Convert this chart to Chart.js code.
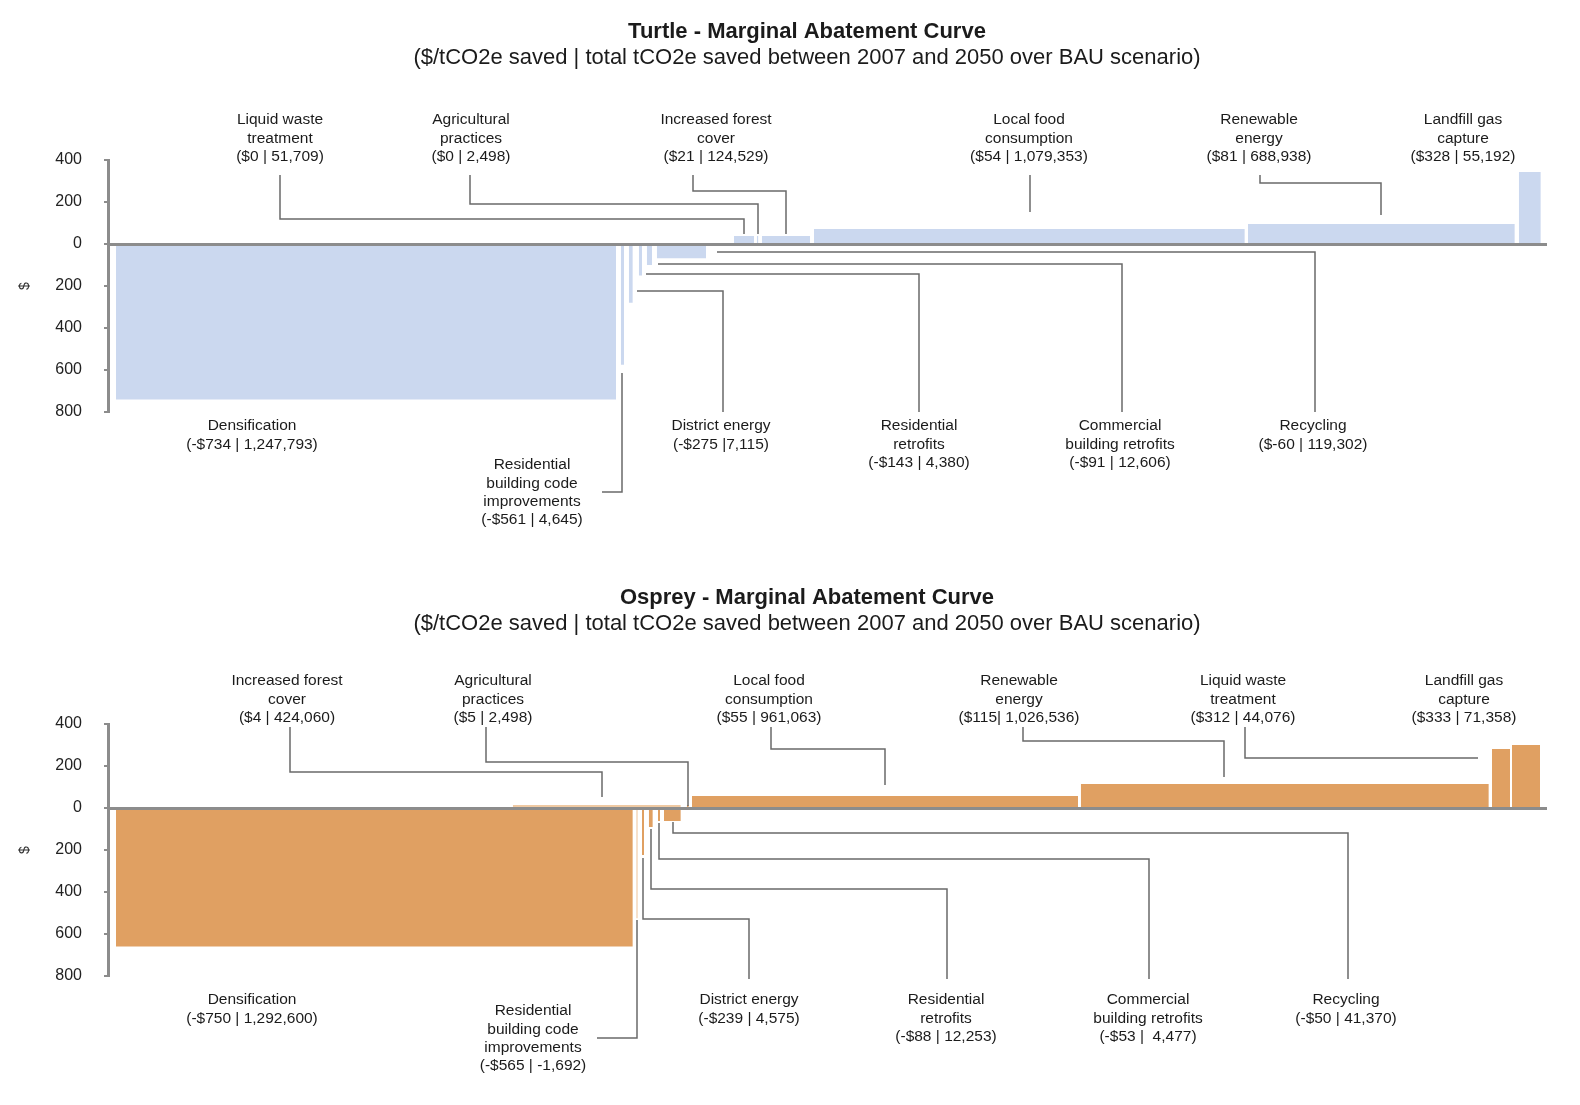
<!doctype html>
<html lang="en">
<head>
  <meta charset="UTF-8" />
  <title>Marginal Abatement Curves</title>
  <script src="https://cdn.jsdelivr.net/npm/chart.js@4.4.4/dist/chart.umd.min.js"></script>
  <style>
    body { margin: 0; background: #fff; overflow: hidden; }
    canvas { display: block; }
  </style>
</head>
<body>
  <canvas id="turtleChart" width="1580" height="564"></canvas>
  <canvas id="ospreyChart" width="1580" height="541"></canvas>

  <script>
    // ---- data (cost in $/tCO2e as drawn, extents in thousand tCO2e as drawn) ----
    const yTicks = [400, 200, 0, -200, -400, -600, -800];

    const turtleNames = [
      'Densification', 'Residential\nbuilding code\nimprovements', 'District energy',
      'Residential\nretrofits', 'Commercial\nbuilding retrofits', 'Recycling',
      'Liquid waste\ntreatment', 'Agricultural\npractices', 'Increased forest\ncover',
      'Local food\nconsumption', 'Renewable\nenergy', 'Landfill gas\ncapture'
    ];
    const turtleTags = [
      '(-$734 | 1,247,793)', '(-$561 | 4,645)', '(-$275 |7,115)', '(-$143 | 4,380)',
      '(-$91 | 12,606)', '($-60 | 119,302)', '($0 | 51,709)', '($0 | 2,498)',
      '($21 | 124,529)', '($54 | 1,079,353)', '($81 | 688,938)', '($328 | 55,192)'
    ];
    const turtleCost = [-740, -575, -280, -150, -100, -68, 38, 38, 38, 71, 95, 343];
    const turtleFrom = [0, 1262, 1282, 1307, 1327, 1352, 1545, 1602, 1615, 1745, 2830, 3507];
    const turtleTo = [1250, 1270, 1292, 1315, 1340, 1475, 1595, 1606, 1735, 2822, 3497, 3562];

    const ospreyNames = [
      'Densification', 'Residential\nbuilding code\nimprovements', 'District energy',
      'Residential\nretrofits', 'Commercial\nbuilding retrofits', 'Recycling',
      'Increased forest\ncover', 'Agricultural\npractices', 'Local food\nconsumption',
      'Renewable\nenergy', 'Liquid waste\ntreatment', 'Landfill gas\ncapture'
    ];
    const ospreyTags = [
      '(-$750 | 1,292,600)', '(-$565 | -1,692)', '(-$239 | 4,575)', '(-$88 | 12,253)',
      '(-$53 |  4,477)', '(-$50 | 41,370)', '($4 | 424,060)', '($5 | 2,498)',
      '($55 | 961,063)', '($115| 1,026,536)', '($312 | 44,076)', '($333 | 71,358)'
    ];
    const ospreyCost = [-660, -525, -224, -90, -62, -62, 14, 14, 57, 114, 281, 300];
    const ospreyFrom = [0, 1300, 1315, 1332, 1355, 1370, 992, 1427, 1440, 2412, 3440, 3490];
    const ospreyTo = [1292, 1305, 1320, 1342, 1360, 1412, 1412, 1432, 2405, 3432, 3485, 3560];

    const subtitle = '($/tCO2e saved | total tCO2e saved between 2007 and 2050 over BAU scenario)';
    const FONT = '"Liberation Sans", Arial, Helvetica, sans-serif';
    Chart.defaults.font.family = FONT;

    // ---- label placement and leader lines (canvas pixels) ----
    const turtleNotes = [
      { bar: 0, x: 252, y: 426 },
      { bar: 1, x: 532, y: 465, path: [[602, 492], [622, 492], [622, 373]] },
      { bar: 2, x: 721, y: 426, path: [[723, 412], [723, 291], [637, 291]] },
      { bar: 3, x: 919, y: 426, path: [[919, 412], [919, 274], [646, 274]] },
      { bar: 4, x: 1120, y: 426, path: [[1122, 412], [1122, 264], [658, 264]] },
      { bar: 5, x: 1313, y: 426, path: [[1315, 412], [1315, 252], [717, 252]] },
      { bar: 6, x: 280, y: 120, path: [[280, 175], [280, 219], [744, 219], [744, 234]] },
      { bar: 7, x: 471, y: 120, path: [[470, 175], [470, 204], [758, 204], [758, 234]] },
      { bar: 8, x: 716, y: 120, path: [[693, 175], [693, 191], [786, 191], [786, 234]] },
      { bar: 9, x: 1029, y: 120, path: [[1030, 175], [1030, 212]] },
      { bar: 10, x: 1259, y: 120, path: [[1260, 175], [1260, 183], [1381, 183], [1381, 215]] },
      { bar: 11, x: 1463, y: 120 }
    ];
    const ospreyNotes = [
      { bar: 0, x: 252, y: 436 },
      { bar: 1, x: 533, y: 447, path: [[597, 474], [637, 474], [637, 356]] },
      { bar: 2, x: 749, y: 436, path: [[749, 415], [749, 355], [643, 355], [643, 294]] },
      { bar: 3, x: 946, y: 436, path: [[947, 415], [947, 325], [651, 325], [651, 265]] },
      { bar: 4, x: 1148, y: 436, path: [[1149, 415], [1149, 295], [659, 295], [659, 259]] },
      { bar: 5, x: 1346, y: 436, path: [[1348, 415], [1348, 269], [673, 269], [673, 258]] },
      { bar: 6, x: 287, y: 117, path: [[290, 163], [290, 208], [602, 208], [602, 233]] },
      { bar: 7, x: 493, y: 117, path: [[486, 163], [486, 198], [688, 198], [688, 242]] },
      { bar: 8, x: 769, y: 117, path: [[771, 163], [771, 185], [885, 185], [885, 221]] },
      { bar: 9, x: 1019, y: 117, path: [[1023, 163], [1023, 177], [1224, 177], [1224, 213]] },
      { bar: 10, x: 1243, y: 117, path: [[1245, 163], [1245, 194], [1478, 194]] },
      { bar: 11, x: 1464, y: 117 }
    ];

    const notesPlugin = {
      id: 'notes',
      afterDraw(chart, args, opts) {
        const ctx = chart.ctx;
        ctx.save();
        ctx.fillStyle = '#1b1b1b';
        ctx.textAlign = 'center';
        ctx.textBaseline = 'middle';
        ctx.font = 'bold 22px ' + FONT;
        ctx.fillText(opts.title, 807, opts.titleY);
        ctx.font = '22px ' + FONT;
        ctx.fillText(subtitle, 807, opts.titleY + 26);

        ctx.strokeStyle = '#6a6a6a';
        ctx.lineWidth = 1.5;
        ctx.font = '15.5px ' + FONT;
        opts.notes.forEach((n) => {
          if (n.path) {
            ctx.beginPath();
            n.path.forEach(([px, py], k) => (k ? ctx.lineTo(px, py) : ctx.moveTo(px, py)));
            ctx.stroke();
          }
          const lines = opts.names[n.bar].split('\n').concat(opts.tags[n.bar]);
          lines.forEach((t, k) => ctx.fillText(t, n.x, n.y + k * 18.3));
        });
        ctx.restore();
      }
    };

    function barSets(from, to, cost, colorOf) {
      return cost.map((v, i) => ({
        data: [{ x: from[i], y: v }, { x: to[i], y: v }],
        fill: 'origin',
        backgroundColor: colorOf(i),
        borderColor: 'transparent',
        borderWidth: 0,
        pointRadius: 0,
        pointHoverRadius: 0,
        tension: 0
      }));
    }

    function makeOptions(height, notes) {
      return {
        responsive: false,
        animation: false,
        devicePixelRatio: 1,
        events: [],
        layout: { padding: { top: 160, bottom: height - 412, left: 0, right: 34 } },
        plugins: {
          legend: { display: false },
          tooltip: { enabled: false },
          notes
        },
        scales: {
          x: {
            type: 'linear',
            min: -20,
            max: 3575,
            position: { y: 0 },
            ticks: { display: false },
            grid: { display: false, drawTicks: false },
            border: { color: '#8c8c8c', width: 3, z: 1 },
            afterFit(s) { s.height = 0; }
          },
          y: {
            type: 'linear',
            min: -800,
            max: 400,
            afterFit(s) { s.width = 108; },
            afterBuildTicks(s) { s.ticks = yTicks.map((v) => ({ value: v })); },
            ticks: {
              callback: (v) => String(Math.abs(v)),
              color: '#222',
              font: { size: 16 },
              padding: 22
            },
            grid: { drawOnChartArea: false, drawTicks: true, tickLength: 4, color: '#8c8c8c', lineWidth: 2 },
            border: { color: '#8c8c8c', width: 3 },
            title: { display: true, text: '$', color: '#333', font: { size: 14 }, padding: { top: 17, bottom: 0 } }
          }
        }
      };
    }

    new Chart(document.getElementById('turtleChart'), {
      type: 'line',
      data: { datasets: barSets(turtleFrom, turtleTo, turtleCost, () => '#cbd8ef') },
      options: makeOptions(564, {
        title: 'Turtle - Marginal Abatement Curve', titleY: 32,
        names: turtleNames, tags: turtleTags, notes: turtleNotes
      }),
      plugins: [notesPlugin]
    });

    const ospreyPale = { 1: '#f6e1cc', 6: '#efc9a2' };
    new Chart(document.getElementById('ospreyChart'), {
      type: 'line',
      data: { datasets: barSets(ospreyFrom, ospreyTo, ospreyCost, (i) => ospreyPale[i] || '#e0a062') },
      options: makeOptions(541, {
        title: 'Osprey - Marginal Abatement Curve', titleY: 34,
        names: ospreyNames, tags: ospreyTags, notes: ospreyNotes
      }),
      plugins: [notesPlugin]
    });
  </script>
</body>
</html>
